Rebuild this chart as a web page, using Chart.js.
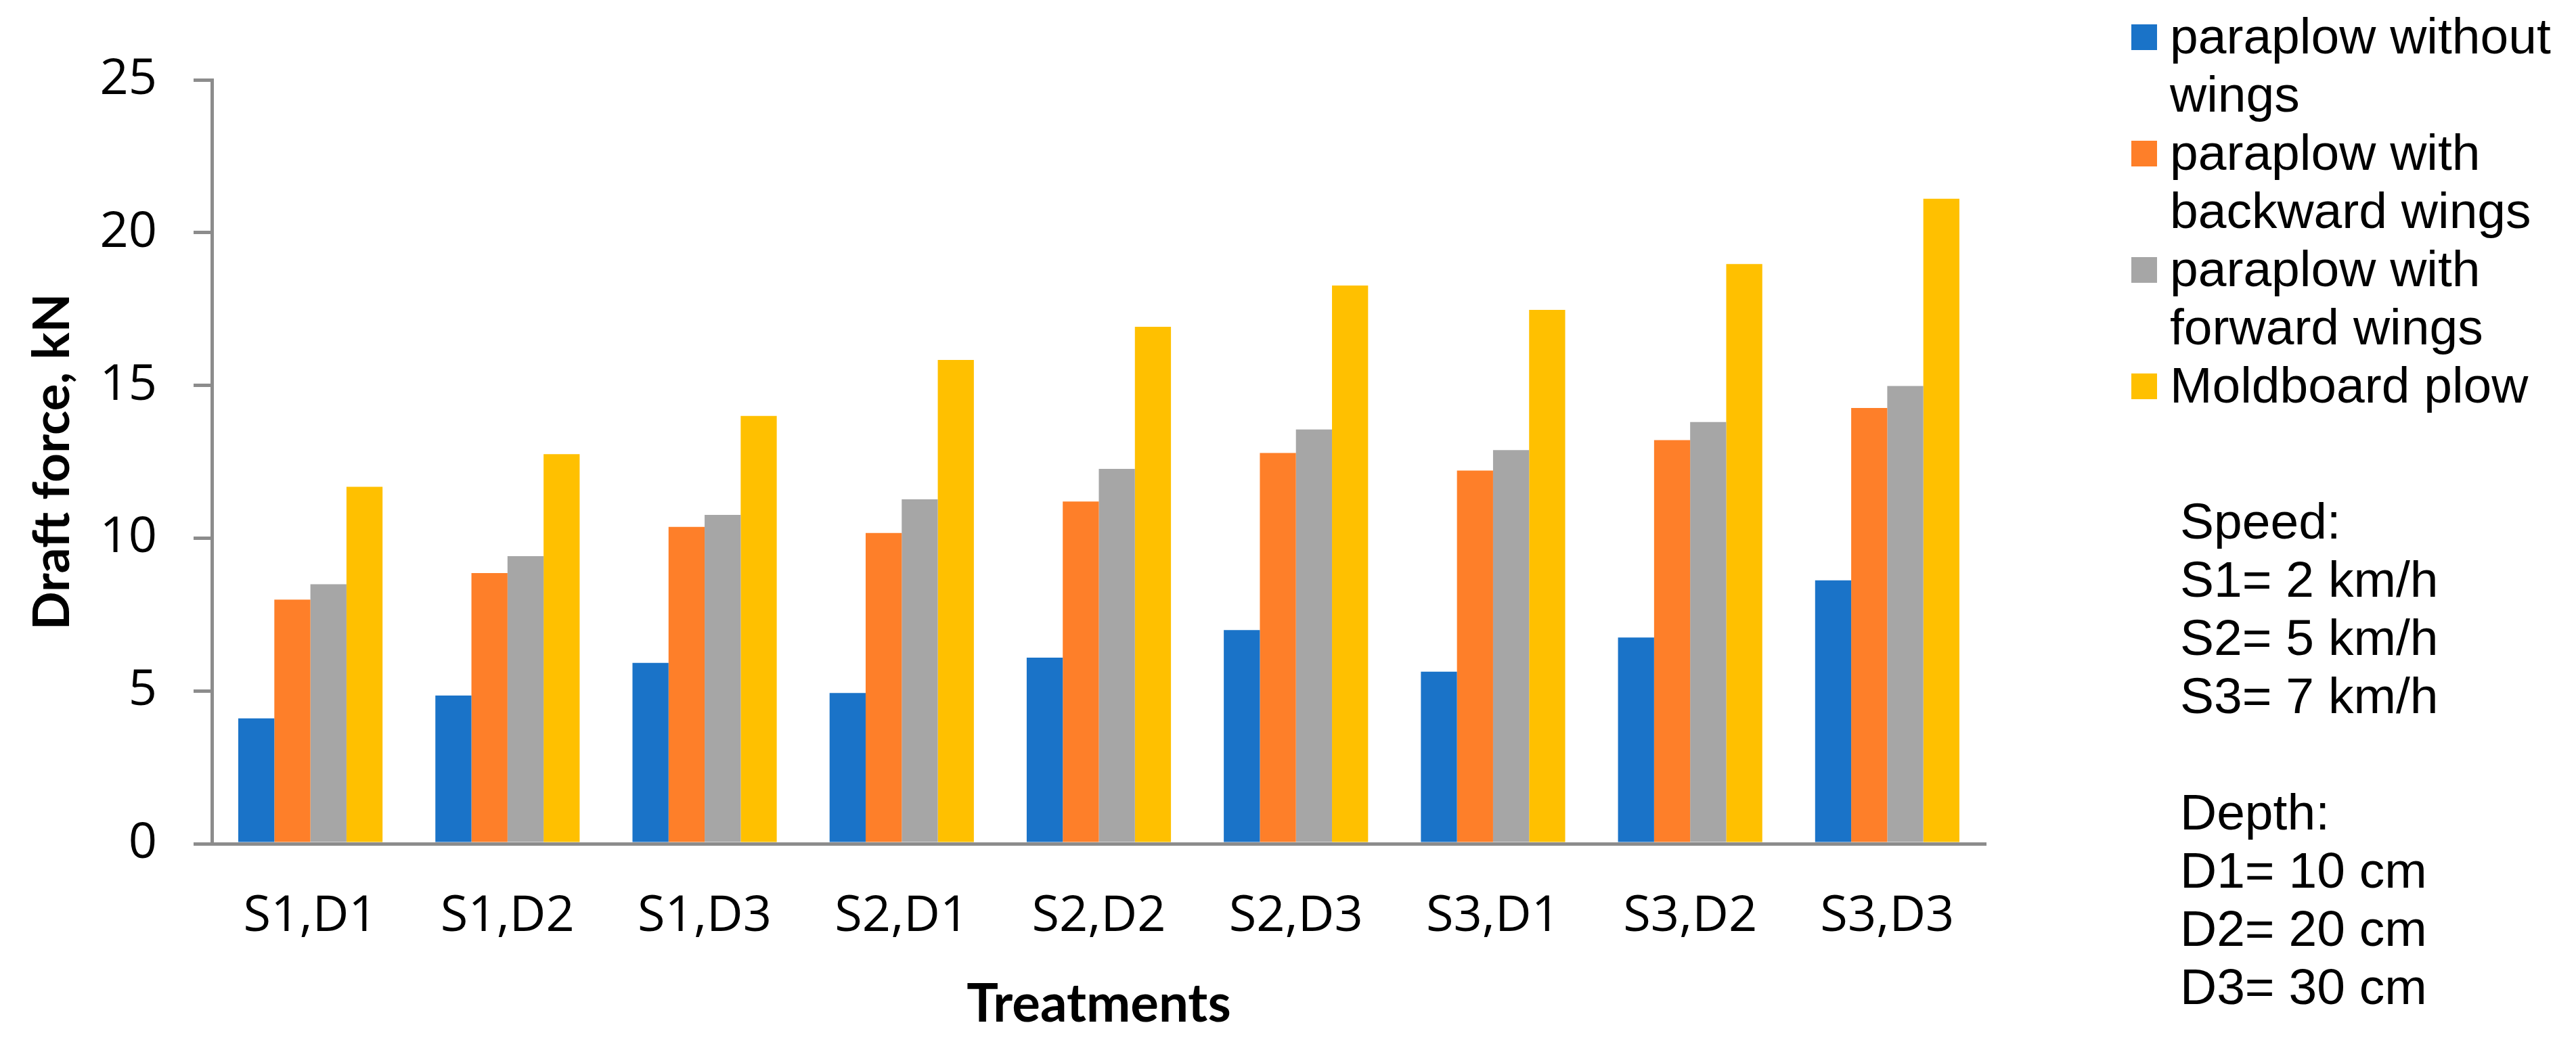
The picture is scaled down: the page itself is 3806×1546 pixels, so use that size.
<!DOCTYPE html>
<html>
<head>
<meta charset="utf-8">
<script src="https://cdn.jsdelivr.net/npm/chart.js@4.4.0/dist/chart.umd.min.js"></script>
<style>
    html, body { margin: 0; padding: 0; background: #fff; }
    body { width: 3806px; height: 1546px; position: relative; overflow: hidden; }
    #chart { position: absolute; left: 0; top: 0; }
    .side {
        position: absolute;
        font-family: "Liberation Sans", Arial, sans-serif;
        font-size: 75px;
        line-height: 86px;
        color: #000;
    }
    #legend { left: 3149px; top: 10px; }
    .item { position: relative; padding-left: 57px; }
    .box { position: absolute; left: 0; top: 26px; width: 38px; height: 38px; }
    #notes { left: 3221px; top: 727px; white-space: pre; }
</style>
</head>
<body>
<canvas id="chart" width="3806" height="1546"></canvas>
<div id="legend" class="side"></div>
<div id="notes" class="side"></div>
<script>
// 处理组合
const treatments = ['S1,D1', 'S1,D2', 'S1,D3', 'S2,D1', 'S2,D2', 'S2,D3', 'S3,D1', 'S3,D2', 'S3,D3'];

const seriesNames = [
    ['paraplow without', 'wings'],
    ['paraplow with', 'backward wings'],
    ['paraplow with', 'forward wings'],
    ['Moldboard plow']
];
const seriesColors = ['#1A73C8', '#FE7F29', '#A6A6A6', '#FFC000'];

const withoutWings = [4.1, 4.85, 5.92, 4.93, 6.09, 6.99, 5.63, 6.75, 8.62];
const backwardWings = [7.99, 8.86, 10.37, 10.17, 11.2, 12.79, 12.21, 13.21, 14.26];
const forwardWings = [8.49, 9.41, 10.76, 11.27, 12.27, 13.56, 12.88, 13.8, 14.98];
const moldboard = [11.68, 12.75, 14.0, 15.83, 16.92, 18.27, 17.47, 18.97, 21.11];

const yTicks = [0, 5, 10, 15, 20, 25];

const notes = ['Speed:', 'S1= 2 km/h', 'S2= 5 km/h', 'S3= 7 km/h', '', 'Depth:', 'D1= 10 cm', 'D2= 20 cm', 'D3= 30 cm'];

const axisGray = '#8C8C8C';
const seriesData = [withoutWings, backwardWings, forwardWings, moldboard];

const ctx = document.getElementById('chart').getContext('2d');
new Chart(ctx, {
    type: 'bar',
    data: {
        labels: treatments,
        datasets: seriesData.map((data, i) => ({
            label: seriesNames[i].join(' '),
            data: data,
            backgroundColor: seriesColors[i],
            borderWidth: 0,
            categoryPercentage: 0.732,
            barPercentage: 1.0
        }))
    },
    options: {
        responsive: false,
        devicePixelRatio: 1,
        animation: false,
        layout: {
            padding: { top: 118, right: 872, left: 0, bottom: 0 }
        },
        scales: {
            y: {
                min: yTicks[0],
                max: yTicks[yTicks.length - 1],
                afterFit: scale => { scale.width = 313; },
                afterBuildTicks: scale => { scale.ticks = yTicks.map(v => ({ value: v })); },
                border: { display: true, color: axisGray, width: 5 },
                grid: {
                    drawOnChartArea: false,
                    drawTicks: true,
                    tickLength: 27,
                    color: axisGray,
                    lineWidth: 5
                },
                ticks: {
                    padding: 54,
                    color: '#000',
                    font: { family: '"Open Sans"', size: 74 }
                },
                title: {
                    display: true,
                    text: 'Draft force, kN',
                    color: '#000',
                    padding: { top: 33, bottom: 0 },
                    font: { family: 'Lato', size: 75, weight: 'bold' }
                }
            },
            x: {
                afterFit: scale => { scale.height = 299; },
                border: { display: true, color: axisGray, width: 5 },
                grid: { display: false, drawTicks: false },
                ticks: {
                    padding: 64,
                    color: '#000',
                    font: { family: '"Open Sans"', size: 74 }
                },
                title: {
                    display: true,
                    text: 'Treatments',
                    color: '#000',
                    padding: { top: 0, bottom: 14 },
                    font: { family: 'Lato', size: 78, weight: 'bold' }
                }
            }
        },
        plugins: {
            legend: { display: false },
            tooltip: { enabled: false }
        }
    }
});

// 图例
const legend = document.getElementById('legend');
seriesNames.forEach((lines, i) => {
    const item = document.createElement('div');
    item.className = 'item';
    item.innerHTML = '<span class="box" style="background:' + seriesColors[i] + '"></span>' + lines.join('<br>');
    legend.appendChild(item);
});

document.getElementById('notes').textContent = notes.join('\n');
</script>
</body>
</html>
